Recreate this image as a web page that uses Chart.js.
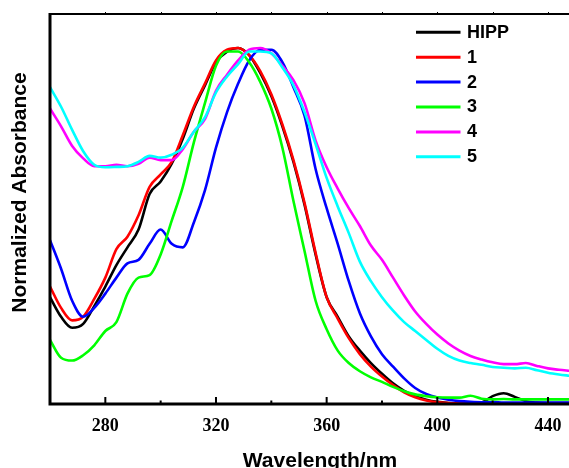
<!DOCTYPE html>
<html lang="en">
<head>
  <meta charset="UTF-8" />
  <title>Normalized Absorbance</title>
  <script src="https://cdn.jsdelivr.net/npm/chart.js"></script>
  <style>
    html, body { margin: 0; padding: 0; background: #fff; }
    #wrap { width: 569px; height: 468px; }
  </style>
</head>
<body>
  <div id="wrap"><canvas id="absChart" width="569" height="468"></canvas></div>

  <script>
    // wavelength grid (nm) shared by every curve
    const wavelengths = [260, 264, 268, 272, 276, 280, 284, 288, 292, 296, 300, 304, 308, 312, 316, 320,
      324, 328, 332, 336, 340, 344, 348, 352, 356, 360, 364, 368, 372, 376, 380, 384,
      388, 392, 396, 400, 404, 408, 412, 416, 420, 424, 428, 432, 436, 440, 444, 448];

    const hipp = [0.30, 0.245, 0.214, 0.225, 0.275, 0.33, 0.39, 0.44, 0.49, 0.59, 0.625, 0.675, 0.745, 0.83, 0.895, 0.96,
      0.99, 1.0, 0.98, 0.93, 0.865, 0.78, 0.68, 0.56, 0.42, 0.30, 0.245, 0.19, 0.15, 0.115, 0.085, 0.058,
      0.037, 0.022, 0.012, 0.006, 0.003, 0.002, 0.002, 0.004, 0.022, 0.03, 0.02, 0.008, 0.004, 0.003, 0.003, 0.003];

    const comp1 = [0.33, 0.27, 0.235, 0.245, 0.295, 0.355, 0.435, 0.47, 0.53, 0.61, 0.645, 0.68, 0.755, 0.835, 0.90, 0.965,
      0.995, 1.0, 0.98, 0.935, 0.87, 0.785, 0.685, 0.565, 0.425, 0.30, 0.24, 0.185, 0.14, 0.105, 0.077, 0.053,
      0.033, 0.019, 0.01, 0.005, 0.003, 0.002, 0.002, 0.002, 0.002, 0.002, 0.002, 0.002, 0.002, 0.002, 0.002, 0.002];

    const comp2 = [0.46, 0.38, 0.29, 0.245, 0.27, 0.31, 0.355, 0.395, 0.405, 0.45, 0.49, 0.45, 0.44, 0.51, 0.60, 0.72,
      0.82, 0.90, 0.965, 0.995, 0.995, 0.96, 0.89, 0.81, 0.66, 0.55, 0.45, 0.345, 0.255, 0.19, 0.14, 0.105,
      0.072, 0.045, 0.028, 0.018, 0.012, 0.008, 0.006, 0.005, 0.005, 0.004, 0.004, 0.004, 0.004, 0.004, 0.004, 0.004];

    const comp3 = [0.18, 0.13, 0.122, 0.137, 0.165, 0.205, 0.23, 0.31, 0.355, 0.362, 0.42, 0.515, 0.61, 0.735, 0.845, 0.95,
      0.99, 0.99, 0.96, 0.905, 0.83, 0.72, 0.57, 0.43, 0.29, 0.21, 0.15, 0.115, 0.092, 0.075, 0.062, 0.048,
      0.036, 0.027, 0.022, 0.019, 0.018, 0.018, 0.023, 0.015, 0.013, 0.014, 0.013, 0.013, 0.013, 0.013, 0.013, 0.013];

    const comp4 = [0.83, 0.78, 0.725, 0.69, 0.668, 0.668, 0.672, 0.668, 0.675, 0.692, 0.685, 0.685, 0.716, 0.765, 0.80, 0.88,
      0.925, 0.965, 0.995, 1.0, 0.985, 0.95, 0.91, 0.845, 0.74, 0.665, 0.605, 0.55, 0.50, 0.445, 0.405, 0.355,
      0.305, 0.26, 0.225, 0.195, 0.17, 0.15, 0.135, 0.125, 0.117, 0.112, 0.112, 0.115, 0.107, 0.10, 0.096, 0.093];

    const comp5 = [0.89, 0.835, 0.77, 0.71, 0.672, 0.665, 0.666, 0.668, 0.68, 0.697, 0.692, 0.70, 0.72, 0.765, 0.805, 0.875,
      0.92, 0.955, 0.99, 0.99, 0.985, 0.945, 0.895, 0.82, 0.73, 0.635, 0.555, 0.48, 0.40, 0.345, 0.30, 0.262,
      0.23, 0.205, 0.18, 0.155, 0.135, 0.122, 0.115, 0.11, 0.104, 0.102, 0.10, 0.102, 0.095, 0.088, 0.083, 0.079];

    const seriesNames = ['HIPP', '1', '2', '3', '4', '5'];
    const seriesColors = ['#000000', '#ff0000', '#0000ff', '#00ff00', '#ff00ff', '#00ffff'];
    const seriesValues = [hipp, comp1, comp2, comp3, comp4, comp5];

    const majorTicks = [280, 320, 360, 400, 440];
    const minorTicks = [300, 340, 380, 420];
    const xTitle = 'Wavelength/nm';
    const yTitle = 'Normalized Absorbance';

    // axes frame, inward ticks, labels and the legend box
    const framePlugin = {
      id: 'frame',
      afterDraw(chart) {
        const { ctx, chartArea: a, scales: { x } } = chart;
        ctx.save();
        ctx.strokeStyle = '#000';
        ctx.fillStyle = '#000';

        ctx.lineWidth = 3;
        ctx.beginPath();
        ctx.moveTo(a.left, a.top - 1);
        ctx.lineTo(a.left, a.bottom + 1.5);
        ctx.moveTo(a.left - 1.5, a.bottom);
        ctx.lineTo(a.right, a.bottom);
        ctx.stroke();

        ctx.lineWidth = 2;
        ctx.beginPath();
        ctx.moveTo(a.left, a.top);
        ctx.lineTo(a.right, a.top);
        ctx.stroke();

        ctx.lineWidth = 2;
        ctx.beginPath();
        majorTicks.forEach(v => {
          const px = x.getPixelForValue(v);
          ctx.moveTo(px, a.bottom);
          ctx.lineTo(px, a.bottom - 7);
        });
        minorTicks.forEach(v => {
          const px = x.getPixelForValue(v);
          ctx.moveTo(px, a.bottom);
          ctx.lineTo(px, a.bottom - 3.5);
        });
        ctx.stroke();

        ctx.lineWidth = 1;
        ctx.beginPath();
        majorTicks.concat(minorTicks).forEach(v => {
          const px = Math.round(x.getPixelForValue(v)) + 0.5;
          ctx.moveTo(px, a.top - 2);
          ctx.lineTo(px, a.top + 1);
        });
        ctx.stroke();

        ctx.font = 'bold 18px "Liberation Serif", "Times New Roman", serif';
        ctx.textAlign = 'center';
        ctx.textBaseline = 'alphabetic';
        majorTicks.forEach(v => {
          ctx.fillText(String(v), x.getPixelForValue(v), 430.5);
        });

        ctx.font = 'bold 21px "Liberation Sans", Arial, sans-serif';
        ctx.fillText(xTitle, 320, 467);

        ctx.save();
        ctx.translate(26, 192.5);
        ctx.rotate(-Math.PI / 2);
        ctx.fillText(yTitle, 0, 0);
        ctx.restore();

        ctx.font = 'bold 18px "Liberation Sans", Arial, sans-serif';
        ctx.textAlign = 'left';
        ctx.textBaseline = 'middle';
        ctx.lineWidth = 3;
        chart.data.datasets.forEach((ds, i) => {
          const y = 32.3 + i * 24.9;
          ctx.strokeStyle = ds.borderColor;
          ctx.beginPath();
          ctx.moveTo(416, y);
          ctx.lineTo(460.5, y);
          ctx.stroke();
          ctx.fillText(ds.label, 467, y + 0.5);
        });
        ctx.restore();
      }
    };

    const datasets = seriesNames.map((name, i) => ({
      label: name,
      data: wavelengths.map((w, k) => ({ x: w, y: seriesValues[i][k] })),
      borderColor: seriesColors[i],
      borderWidth: 2.6,
      pointRadius: 0,
      fill: false,
      cubicInterpolationMode: 'monotone',
      order: seriesNames.length - i
    }));

    new Chart(document.getElementById('absChart'), {
      type: 'line',
      data: { datasets: datasets },
      options: {
        responsive: false,
        animation: false,
        devicePixelRatio: 1,
        layout: { padding: { left: 50, right: 0, top: 14, bottom: 64 } },
        scales: {
          x: { type: 'linear', min: 260, max: 447.6, display: false },
          y: { min: 0, max: 1.0955, display: false }
        },
        plugins: {
          legend: { display: false },
          tooltip: { enabled: false }
        }
      },
      plugins: [framePlugin]
    });
  </script>
</body>
</html>
